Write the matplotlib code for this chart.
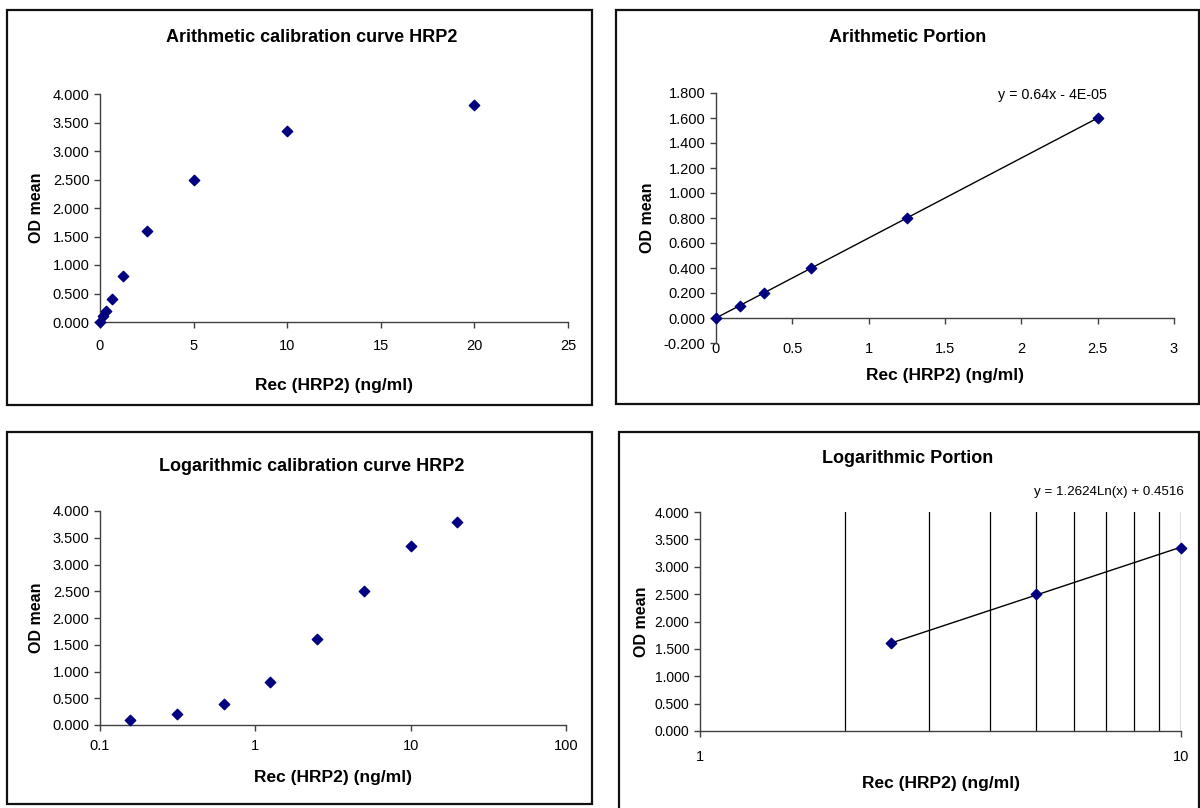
"""Four-panel HRP2 calibration figure (arithmetic / logarithmic views plus
the linear and log-linear portions with their trend lines) -> out.png."""
import numpy as np
import matplotlib

matplotlib.use("Agg")
import matplotlib.pyplot as plt
from matplotlib.patches import Rectangle
from matplotlib.ticker import FixedLocator, FuncFormatter, NullLocator

plt.rcParams["font.family"] = ["Liberation Sans", "DejaVu Sans"]

# Calibration standards (ng/ml) and mean optical density.
conc_all = [0, 0.15625, 0.3125, 0.625, 1.25, 2.5, 5, 10, 20]
od_all = [0.0, 0.10, 0.20, 0.40, 0.80, 1.60, 2.50, 3.35, 3.80]

conc_log = [0.15625, 0.3125, 0.625, 1.25, 2.5, 5, 10, 20]
od_log = [0.10, 0.20, 0.40, 0.80, 1.60, 2.50, 3.35, 3.80]

conc_lin = [0, 0.15625, 0.3125, 0.625, 1.25, 2.5]
od_lin = [0.0, 0.10, 0.20, 0.40, 0.80, 1.60]

conc_lnp = [2.5, 5, 10]
od_lnp = [1.60, 2.50, 3.35]

# Trend lines as printed on the chart.
LIN_SLOPE, LIN_ICPT = 0.64, -4e-05
LN_SLOPE, LN_ICPT = 1.2624, 0.4516

NAVY = "#000080"
INK = "#000000"
AXIS = "#404040"
XLABEL = "Rec (HRP2) (ng/ml)"
YLABEL = "OD mean"

W, H = 1200, 808
fig = plt.figure(figsize=(W / 100, H / 100), dpi=100)
fig.patch.set_facecolor("white")


def px_axes(left, right, top, bottom):
    return fig.add_axes([left / W, 1 - bottom / H, (right - left) / W,
                         (bottom - top) / H])


def frame(left, right, top, bottom):
    fig.patches.append(Rectangle((left / W, 1 - bottom / H), (right - left) / W,
                                 (bottom - top) / H, transform=fig.transFigure,
                                 fill=False, edgecolor="#111111", linewidth=1.6))


def style(ax, title, title_x, title_y, xpad=7, xlabelpad=12, ylabelpad=6):
    for s in ("top", "right"):
        ax.spines[s].set_visible(False)
    for s in ("left", "bottom"):
        ax.spines[s].set_color(AXIS)
        ax.spines[s].set_linewidth(1.0)
    ax.tick_params(direction="out", length=4, width=1, colors=AXIS,
                   labelcolor=INK, labelsize=10.5)
    ax.tick_params(axis="x", pad=xpad)
    ax.set_ylabel(YLABEL, fontsize=11.5, fontweight="bold", labelpad=ylabelpad)
    ax.set_xlabel(XLABEL, fontsize=12.5, fontweight="bold", labelpad=xlabelpad)
    fig.text(title_x / W, 1 - title_y / H, title, ha="center", va="center",
             fontsize=13, fontweight="bold")


y3 = FuncFormatter(lambda v, p: f"{v:.3f}")
plain = FuncFormatter(lambda v, p: f"{v:g}")

# ---- top left: arithmetic calibration curve --------------------------------
frame(7, 592, 10, 405)
ax1 = px_axes(100, 568, 94, 322)
ax1.scatter(conc_all, od_all, marker="D", s=28, color=NAVY, zorder=3,
            clip_on=False)
ax1.set_xlim(0, 25)
ax1.set_ylim(0, 4)
ax1.set_xticks(range(0, 26, 5))
ax1.set_yticks(np.arange(0, 4.01, 0.5))
ax1.yaxis.set_major_formatter(y3)
style(ax1, "Arithmetic calibration curve HRP2", 312, 38, xpad=8, xlabelpad=18)

# ---- top right: arithmetic portion with linear fit -------------------------
frame(616, 1199, 10, 404)
ax2 = px_axes(716, 1174, 93, 343)
xf = np.array([conc_lin[0], conc_lin[-1]])
ax2.plot(xf, LIN_SLOPE * xf + LIN_ICPT, color=INK, linewidth=1.0, zorder=2)
ax2.scatter(conc_lin, od_lin, marker="D", s=28, color=NAVY, zorder=3,
            clip_on=False)
ax2.set_xlim(0, 3)
ax2.set_ylim(-0.2, 1.8)
ax2.spines["bottom"].set_position(("data", 0))
ax2.set_xticks(np.arange(0, 3.01, 0.5))
ax2.set_yticks(np.arange(-0.2, 1.81, 0.2))
ax2.xaxis.set_major_formatter(plain)
ax2.yaxis.set_major_formatter(y3)
style(ax2, "Arithmetic Portion", 908, 38, xpad=13)
ax2.xaxis.set_label_coords(0.5, -0.10)
ax2.text(2.206, 1.78, f"y = {LIN_SLOPE:g}x - 4E-05", fontsize=10.3,
         ha="center", va="center")

# ---- bottom left: logarithmic calibration curve ----------------------------
frame(7, 592, 432, 804)
ax3 = px_axes(100, 566, 511, 725)
ax3.scatter(conc_log, od_log, marker="D", s=28, color=NAVY, zorder=3,
            clip_on=False)
ax3.set_xscale("log")
ax3.set_xlim(0.1, 100)
ax3.set_ylim(0, 4)
ax3.xaxis.set_major_locator(FixedLocator([0.1, 1, 10, 100]))
ax3.xaxis.set_minor_locator(NullLocator())
ax3.xaxis.set_major_formatter(plain)
ax3.set_yticks(np.arange(0, 4.01, 0.5))
ax3.yaxis.set_major_formatter(y3)
style(ax3, "Logarithmic calibration curve HRP2", 312, 467, xpad=6,
      xlabelpad=12)

# ---- bottom right: logarithmic portion with ln fit -------------------------
frame(619, 1199, 432, 830)
ax4 = px_axes(700, 1181, 512, 731)
ax4.set_xscale("log")
ax4.set_xlim(1, 10)
ax4.set_ylim(0, 4)
for g in range(2, 11):
    ax4.axvline(g, color=INK, linewidth=0.9, zorder=1)
xl = np.linspace(conc_lnp[0], conc_lnp[-1], 60)
ax4.plot(xl, LN_SLOPE * np.log(xl) + LN_ICPT, color=INK, linewidth=1.0,
         zorder=2)
ax4.scatter(conc_lnp, od_lnp, marker="D", s=28, color=NAVY, zorder=3,
            clip_on=False)
ax4.xaxis.set_major_locator(FixedLocator([1, 10]))
ax4.xaxis.set_minor_locator(NullLocator())
ax4.xaxis.set_major_formatter(plain)
ax4.set_yticks(np.arange(0, 4.01, 0.5))
ax4.yaxis.set_major_formatter(y3)
style(ax4, "Logarithmic Portion", 908, 459, xpad=10, xlabelpad=8,
      ylabelpad=4)
ax4.tick_params(axis="y", labelsize=10)
ax4.text(1.005, 1.09, f"y = {LN_SLOPE}Ln(x) + {LN_ICPT}", transform=ax4.transAxes,
         fontsize=9.6, ha="right", va="center")

fig.savefig("out.png", dpi=100, facecolor="white")
plt.close(fig)
